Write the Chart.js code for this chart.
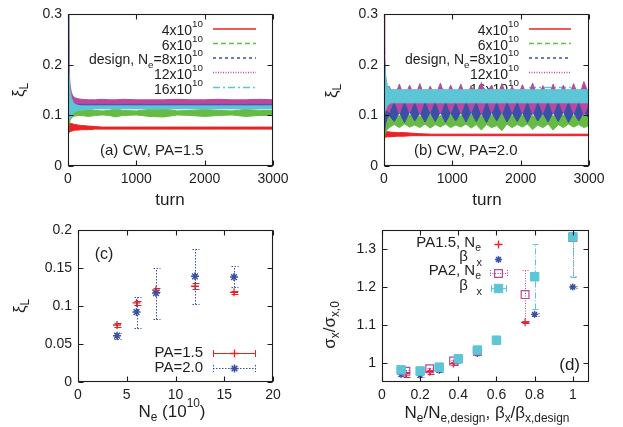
<!doctype html>
<html lang="en">
<head>
<meta charset="utf-8">
<script src="https://cdn.jsdelivr.net/npm/chart.js"></script>
<style>
  body { margin: 0; background: #fff; }
  canvas { position: absolute; }
</style>
</head>
<body>
<canvas id="chartA" width="311" height="213" style="left:0;top:0;width:311px;height:213px"></canvas>
<canvas id="chartB" width="312" height="213" style="left:311px;top:0;width:312px;height:213px"></canvas>
<canvas id="chartC" width="311" height="214" style="left:0;top:213px;width:311px;height:214px"></canvas>
<canvas id="chartD" width="312" height="214" style="left:311px;top:213px;width:312px;height:214px"></canvas>
<script>
// ---- (a) CW, PA=1.5 : each trace kept as upper / lower edge of its noisy band ----
const turnA = [0, 10, 20, 30, 50, 75, 100, 150, 200, 300, 400, 500, 600, 700, 800, 1000, 1200, 1400, 1600, 1800, 2000, 2200, 2400, 2600, 2800, 3000];
const redHiA = [0.090, 0.088, 0.086, 0.085, 0.084, 0.083, 0.082, 0.081, 0.080, 0.079, 0.078, 0.077, 0.077, 0.077, 0.077, 0.077, 0.077, 0.077, 0.077, 0.077, 0.077, 0.077, 0.077, 0.077, 0.077, 0.077];
const redLoA = [0.064, 0.066, 0.067, 0.068, 0.069, 0.070, 0.071, 0.071, 0.072, 0.072, 0.073, 0.073, 0.073, 0.073, 0.073, 0.073, 0.073, 0.073, 0.073, 0.073, 0.073, 0.073, 0.073, 0.073, 0.073, 0.073];
const greenHiA = [0.085, 0.092, 0.098, 0.103, 0.108, 0.110, 0.111, 0.111, 0.110, 0.112, 0.110, 0.109, 0.110, 0.113, 0.110, 0.109, 0.112, 0.113, 0.109, 0.110, 0.112, 0.110, 0.109, 0.112, 0.110, 0.110];
const greenLoA = [0.070, 0.078, 0.085, 0.090, 0.095, 0.098, 0.099, 0.100, 0.100, 0.098, 0.100, 0.101, 0.100, 0.097, 0.100, 0.101, 0.098, 0.097, 0.101, 0.100, 0.098, 0.100, 0.101, 0.098, 0.100, 0.100];
const blueHiA = [0.300, 0.200, 0.160, 0.145, 0.135, 0.130, 0.128, 0.127, 0.126, 0.126, 0.127, 0.126, 0.126, 0.127, 0.126, 0.126, 0.126, 0.127, 0.126, 0.126, 0.126, 0.127, 0.126, 0.126, 0.126, 0.126];
const blueLoA = [0.250, 0.150, 0.125, 0.120, 0.118, 0.118, 0.118, 0.118, 0.118, 0.118, 0.118, 0.118, 0.118, 0.118, 0.118, 0.118, 0.118, 0.118, 0.118, 0.118, 0.118, 0.118, 0.118, 0.118, 0.118, 0.118];
const magHiA = [0.300, 0.220, 0.180, 0.160, 0.145, 0.138, 0.135, 0.133, 0.132, 0.131, 0.131, 0.132, 0.131, 0.131, 0.132, 0.131, 0.131, 0.131, 0.132, 0.131, 0.131, 0.132, 0.131, 0.131, 0.132, 0.131];
const magLoA = [0.250, 0.170, 0.140, 0.132, 0.126, 0.124, 0.123, 0.123, 0.123, 0.123, 0.123, 0.123, 0.123, 0.123, 0.123, 0.123, 0.123, 0.123, 0.123, 0.123, 0.123, 0.123, 0.123, 0.123, 0.123, 0.123];
const cyanHiA = [0.300, 0.200, 0.170, 0.150, 0.135, 0.126, 0.122, 0.120, 0.119, 0.119, 0.119, 0.119, 0.119, 0.119, 0.119, 0.119, 0.119, 0.119, 0.119, 0.119, 0.119, 0.119, 0.119, 0.119, 0.119, 0.119];
const cyanLoA = [0.120, 0.090, 0.090, 0.093, 0.098, 0.103, 0.107, 0.110, 0.111, 0.112, 0.113, 0.113, 0.113, 0.113, 0.113, 0.113, 0.113, 0.113, 0.113, 0.113, 0.113, 0.113, 0.113, 0.113, 0.113, 0.113];

// ---- (b) CW, PA=2.0 : oscillating traces, edges at nodes / antinodes ----
const turnB = [0, 10, 25, 50, 75, 150, 225, 300, 375, 450, 525, 600, 675, 750, 825, 900, 975, 1050, 1125, 1200, 1275, 1350, 1425, 1500, 1575, 1650, 1725, 1800, 1875, 1950, 2025, 2100, 2175, 2250, 2325, 2400, 2475, 2550, 2625, 2700, 2775, 2850, 2925, 3000];
const greenHiB = [0.060, 0.075, 0.085, 0.092, 0.098, 0.094, 0.100, 0.095, 0.101, 0.094, 0.099, 0.096, 0.102, 0.094, 0.100, 0.095, 0.101, 0.093, 0.100, 0.096, 0.103, 0.094, 0.100, 0.095, 0.101, 0.092, 0.104, 0.095, 0.100, 0.094, 0.101, 0.095, 0.100, 0.093, 0.102, 0.095, 0.100, 0.094, 0.101, 0.096, 0.100, 0.094, 0.101, 0.097];
const greenLoB = [0.050, 0.060, 0.068, 0.072, 0.076, 0.082, 0.076, 0.083, 0.077, 0.081, 0.076, 0.083, 0.075, 0.082, 0.077, 0.083, 0.076, 0.081, 0.077, 0.083, 0.075, 0.082, 0.071, 0.082, 0.076, 0.080, 0.070, 0.083, 0.076, 0.082, 0.077, 0.083, 0.072, 0.081, 0.076, 0.083, 0.071, 0.082, 0.076, 0.083, 0.077, 0.082, 0.076, 0.080];
const blueHiB = [0.080, 0.100, 0.110, 0.118, 0.115, 0.130, 0.114, 0.131, 0.113, 0.129, 0.115, 0.131, 0.114, 0.130, 0.113, 0.131, 0.115, 0.129, 0.114, 0.131, 0.113, 0.130, 0.115, 0.131, 0.114, 0.129, 0.113, 0.131, 0.115, 0.130, 0.114, 0.131, 0.113, 0.129, 0.115, 0.131, 0.114, 0.130, 0.113, 0.131, 0.115, 0.130, 0.114, 0.128];
const blueLoB = [0.060, 0.070, 0.085, 0.095, 0.100, 0.088, 0.106, 0.086, 0.107, 0.089, 0.105, 0.087, 0.106, 0.088, 0.107, 0.086, 0.105, 0.089, 0.106, 0.087, 0.107, 0.088, 0.105, 0.086, 0.106, 0.089, 0.107, 0.087, 0.105, 0.088, 0.106, 0.086, 0.107, 0.089, 0.105, 0.087, 0.106, 0.088, 0.107, 0.086, 0.105, 0.089, 0.106, 0.095];
const magHiB = [0.300, 0.220, 0.175, 0.155, 0.158, 0.136, 0.162, 0.135, 0.160, 0.136, 0.163, 0.134, 0.158, 0.136, 0.164, 0.135, 0.160, 0.137, 0.162, 0.134, 0.159, 0.136, 0.165, 0.135, 0.160, 0.134, 0.163, 0.136, 0.158, 0.135, 0.161, 0.136, 0.164, 0.134, 0.159, 0.136, 0.162, 0.135, 0.160, 0.136, 0.163, 0.135, 0.167, 0.140];
const magLoB = [0.200, 0.120, 0.110, 0.110, 0.106, 0.130, 0.103, 0.131, 0.105, 0.130, 0.102, 0.131, 0.106, 0.130, 0.103, 0.131, 0.105, 0.129, 0.103, 0.131, 0.106, 0.130, 0.102, 0.131, 0.105, 0.130, 0.103, 0.131, 0.106, 0.130, 0.104, 0.131, 0.102, 0.130, 0.105, 0.131, 0.103, 0.130, 0.105, 0.131, 0.103, 0.130, 0.101, 0.125];
const redTurnB = [0, 20, 50, 100, 200, 300, 400, 500, 700, 3000];
const redHiB = [0.068, 0.067, 0.068, 0.067, 0.066, 0.066, 0.065, 0.064, 0.063, 0.063];
const redLoB = [0.056, 0.057, 0.058, 0.058, 0.059, 0.059, 0.060, 0.060, 0.060, 0.060];
const cyanTurnB = [0, 5, 10, 25, 50, 100, 3000];
const cyanHiB = [0.300, 0.260, 0.210, 0.175, 0.158, 0.151, 0.151];
const cyanLoB = [0.220, 0.100, 0.105, 0.112, 0.120, 0.125, 0.125];

// ---- (c) xi_L vs N_e ----
const neC = [4, 6, 8, 12, 16];
const pa15C = [0.075, 0.104, 0.121, 0.126, 0.118];
const pa15LoC = [0.073, 0.101, 0.118, 0.122, 0.116];
const pa15HiC = [0.077, 0.107, 0.124, 0.130, 0.120];
const pa2C = [0.061, 0.092, 0.117, 0.139, 0.138];
const pa2LoC = [0.057, 0.071, 0.083, 0.103, 0.125];
const pa2HiC = [0.065, 0.112, 0.150, 0.175, 0.153];

// ---- (d) sigma_x / sigma_x,0 ----
const neRatio15 = [0.125, 0.25, 0.375, 0.5, 0.75];
const pa15Ne = [0.972, 0.977, 0.999, 1.027, 1.107];
const pa15NeLo = [0.964, 0.972, 0.994, 1.024, 1.104];
const pa15NeHi = [0.976, 0.981, 1.003, 1.030, 1.110];
const bxRatio = [0.1, 0.2, 0.3, 0.4, 0.5, 0.6, 0.8, 1.0];
const pa15Bx = [0.970, 0.968, 0.981, 1.005, 1.025, 1.057, 1.128, 1.200];
const pa15BxLo = [0.966, 0.963, 0.977, 1.002, 1.022, 1.055, 1.124, 1.197];
const pa15BxHi = [0.974, 0.972, 0.985, 1.008, 1.028, 1.059, 1.132, 1.203];
const neRatio2 = [0.125, 0.25, 0.375, 0.5, 0.75, 1.0];
const pa2Ne = [0.978, 0.985, 1.005, 1.031, 1.180, 1.330];
const pa2NeLo = [0.975, 0.982, 1.002, 1.028, 1.110, 1.230];
const pa2NeHi = [0.981, 0.988, 1.008, 1.034, 1.245, 1.420];
const pa2Bx = [0.982, 0.979, 0.989, 1.011, 1.034, 1.060, 1.227, 1.332];
const pa2BxLo = [0.980, 0.977, 0.987, 1.009, 1.032, 1.058, 1.142, 1.225];
const pa2BxHi = [0.984, 0.981, 0.991, 1.013, 1.036, 1.062, 1.312, 1.440];

// tick values
const tickTurn = [0, 1000, 2000, 3000];
const tickXiAB = [0, 0.1, 0.2, 0.3];
const tickNe = [0, 5, 10, 15, 20];
const tickXiC = [0, 0.05, 0.1, 0.15, 0.2];
const tickRatio = [0, 0.2, 0.4, 0.6, 0.8, 1];
const tickSigma = [1, 1.1, 1.2, 1.3];

// key labels
const traceLabels = [
  [['4x10', ''], ['10', 'sup']],
  [['6x10', ''], ['10', 'sup']],
  [['design, N', ''], ['e', 'sub'], ['=8x10', ''], ['10', 'sup']],
  [['12x10', ''], ['10', 'sup']],
  [['16x10', ''], ['10', 'sup']]
];
const paLabelsC = ['PA=1.5', 'PA=2.0'];

const FONT = '"Liberation Sans", Arial, sans-serif';
const INK = '#1e1e1e';
const RED = '#ec2222', GREEN = '#66bb44', BLUE = '#3a4fa6', MAG = '#b9499f', CYAN = '#5cc6d6';
const traceStyles = [
  { c: RED, d: [] }, { c: GREEN, d: [5, 3] }, { c: BLUE, d: [3, 3] }, { c: MAG, d: [1, 1.5] }, { c: CYAN, d: [7, 3, 2, 3] }
];

function rich(ctx, parts, x, y, align, size) {
  const sm = size * 0.7;
  const ws = parts.map(p => { ctx.font = (p[1] ? sm : size) + 'px ' + FONT; return ctx.measureText(p[0]).width; });
  const total = ws.reduce((a, b) => a + b, 0);
  let cx = align === 'right' ? x - total : align === 'center' ? x - total / 2 : x;
  ctx.textAlign = 'left';
  ctx.textBaseline = 'middle';
  ctx.fillStyle = INK;
  parts.forEach((p, i) => {
    ctx.font = (p[1] ? sm : size) + 'px ' + FONT;
    const dy = p[1] === 'sub' ? size * 0.32 : p[1] === 'sup' ? -size * 0.5 : 0;
    ctx.fillText(p[0], cx, y + dy);
    cx += ws[i];
  });
}

function drawTexts(ctx, texts) {
  texts.forEach(t => {
    ctx.save();
    if (t.rot) {
      ctx.translate(t.x, t.y);
      ctx.rotate(-Math.PI / 2);
      rich(ctx, t.p, 0, 0, 'center', t.s);
    } else {
      rich(ctx, t.p, t.x, t.y, t.a || 'left', t.s);
    }
    ctx.restore();
  });
}

function marker(ctx, style, r, x, y, color, lw, filled) {
  ctx.save();
  ctx.setLineDash([]);
  ctx.strokeStyle = color;
  ctx.fillStyle = color;
  ctx.lineWidth = lw;
  ctx.beginPath();
  if (style === 'rect') {
    const s = r * Math.SQRT1_2;
    ctx.rect(x - s, y - s, 2 * s, 2 * s);
    if (filled) ctx.fill();
  } else {
    ctx.moveTo(x - r, y); ctx.lineTo(x + r, y);
    ctx.moveTo(x, y - r); ctx.lineTo(x, y + r);
    if (style === 'star') {
      const d = r * Math.SQRT1_2;
      ctx.moveTo(x - d, y - d); ctx.lineTo(x + d, y + d);
      ctx.moveTo(x - d, y + d); ctx.lineTo(x + d, y - d);
    }
  }
  ctx.stroke();
  ctx.restore();
}

function hbar(ctx, x0, x1, y, color, dash) {
  ctx.save();
  ctx.strokeStyle = color; ctx.lineWidth = 1; ctx.setLineDash(dash);
  ctx.beginPath();
  ctx.moveTo(x0, y + 0.5); ctx.lineTo(x1, y + 0.5);
  ctx.moveTo(x0 + 0.5, y - 3); ctx.lineTo(x0 + 0.5, y + 4);
  ctx.moveTo(x1 - 0.5, y - 3); ctx.lineTo(x1 - 0.5, y + 4);
  ctx.stroke();
  ctx.restore();
}

function traceKey(ctx, xr, x0, x1, rows) {
  traceLabels.forEach((lab, i) => {
    rich(ctx, lab, xr, rows[i] + 2.5, 'right', 14);
    ctx.save();
    ctx.beginPath();
    ctx.strokeStyle = traceStyles[i].c;
    ctx.lineWidth = 1.5;
    ctx.setLineDash(traceStyles[i].d);
    ctx.moveTo(x0, rows[i]); ctx.lineTo(x1, rows[i]);
    ctx.stroke();
    ctx.restore();
  });
}

function frame(chart) {
  const { ctx, chartArea: a, scales } = chart;
  const l = Math.round(a.left) + 0.5, r = Math.round(a.right) - 0.5;
  const t = Math.round(a.top) + 0.5, b = Math.round(a.bottom) - 0.5;
  ctx.save();
  ctx.strokeStyle = INK; ctx.lineWidth = 1.1; ctx.setLineDash([]);
  ctx.strokeRect(l, t, r - l, b - t);
  ctx.beginPath();
  scales.x.ticks.forEach(k => {
    const x = Math.round(scales.x.getPixelForValue(k.value)) + 0.5;
    ctx.moveTo(x, b); ctx.lineTo(x, b - 5);
    ctx.moveTo(x, t); ctx.lineTo(x, t + 5);
  });
  scales.y.ticks.forEach(k => {
    const y = Math.round(scales.y.getPixelForValue(k.value)) + 0.5;
    ctx.moveTo(l, y); ctx.lineTo(l + 5, y);
    ctx.moveTo(r, y); ctx.lineTo(r - 5, y);
  });
  ctx.stroke();
  ctx.restore();
}

function errorBars(chart, i) {
  const ds = chart.data.datasets[i];
  if (!ds.err) return;
  const meta = chart.getDatasetMeta(i), ys = chart.scales.y, a = chart.chartArea, ctx = chart.ctx;
  ctx.save();
  ctx.beginPath();
  ctx.rect(a.left, a.top, a.right - a.left, a.bottom - a.top);
  ctx.clip();
  ctx.strokeStyle = ds.borderColor; ctx.lineWidth = 1; ctx.setLineDash(ds.err.dash);
  ctx.beginPath();
  meta.data.forEach((p, j) => {
    const y0 = Math.round(ys.getPixelForValue(ds.err.lo[j])) + 0.5;
    const y1 = Math.round(ys.getPixelForValue(ds.err.hi[j])) + 0.5;
    const x = Math.round(p.x) + 0.5;
    ctx.moveTo(x, y0); ctx.lineTo(x, y1);
    ctx.moveTo(x - 3, y0); ctx.lineTo(x + 4, y0);
    ctx.moveTo(x - 3, y1); ctx.lineTo(x + 4, y1);
  });
  ctx.stroke();
  ctx.restore();
}

function axis(min, max, ticks, isY, fit) {
  return {
    type: 'linear', min: min, max: max,
    grid: { display: false, drawTicks: false }, border: { display: false },
    afterBuildTicks: s => { s.ticks = ticks.map(v => ({ value: v })); },
    afterFit: s => { if (isY) s.width = fit; else s.height = fit; },
    ticks: { color: INK, padding: isY ? 6 : 5, autoSkip: false, maxRotation: 0,
             font: { family: FONT, size: 14 }, callback: v => String(v) }
  };
}

function band(xs, hi, lo, color, ord) {
  const pts = ys => xs.map((x, i) => ({ x: x, y: ys[i] }));
  return [
    { data: pts(hi), borderColor: color, backgroundColor: color, borderWidth: 1, pointRadius: 0, fill: '+1', order: ord },
    { data: pts(lo), borderColor: color, backgroundColor: color, borderWidth: 1, pointRadius: 0, fill: false, order: ord }
  ];
}

function marks(xs, ys, lo, hi, color, style, r, lw, bg, dash, ord) {
  return {
    data: xs.map((x, i) => ({ x: x, y: ys[i] })),
    showLine: false, pointStyle: style, pointRadius: r, pointBorderWidth: lw,
    borderColor: color, backgroundColor: bg, order: ord,
    err: { lo: lo, hi: hi, dash: dash }
  };
}

function panel(id, box, xs, ys, datasets, deco) {
  const [W, H, L, R, T, B] = box;
  return new Chart(document.getElementById(id), {
    type: 'line',
    data: { datasets: datasets },
    options: {
      responsive: false, animation: false, events: [],
      layout: { autoPadding: false, padding: { left: 0, top: T, right: W - R, bottom: 0 } },
      plugins: { legend: { display: false }, tooltip: { enabled: false } },
      elements: { line: { tension: 0 } },
      scales: {
        x: axis(xs[0], xs[1], xs[2], false, H - B),
        y: axis(ys[0], ys[1], ys[2], true, L)
      }
    },
    plugins: [{
      id: 'deco',
      beforeDatasetsDraw(chart) { if (deco.key) deco.key(chart.ctx); },
      afterDatasetDraw(chart, args) { errorBars(chart, args.index); },
      afterDatasetsDraw(chart) { frame(chart); },
      afterDraw(chart) { drawTexts(chart.ctx, deco.texts); }
    }]
  });
}

const keyRows = [29, 43.5, 58, 72.5, 87.5];

// (a)
panel('chartA', [311, 213, 68, 273, 14, 166], [0, 3000, tickTurn], [0, 0.3, tickXiAB], [].concat(
  band(turnA, redHiA, redLoA, RED, 5),
  band(turnA, greenHiA, greenLoA, GREEN, 4),
  band(turnA, blueHiA, blueLoA, BLUE, 3),
  band(turnA, magHiA, magLoA, MAG, 2),
  band(turnA, cyanHiA, cyanLoA, CYAN, 1)
), {
  key: ctx => traceKey(ctx, 203, 213, 256, keyRows),
  texts: [
    { p: [['ξ', ''], ['L', 'sub']], x: 19, y: 90, s: 17, rot: true },
    { p: [['turn', '']], x: 170, y: 200, s: 17, a: 'center' },
    { p: [['(a) CW, PA=1.5', '']], x: 100, y: 151, s: 15 }
  ]
});

// (b)
panel('chartB', [312, 213, 73, 278, 14, 166], [0, 3000, tickTurn], [0, 0.3, tickXiAB], [].concat(
  band(redTurnB, redHiB, redLoB, RED, 5),
  band(turnB, greenHiB, greenLoB, GREEN, 4),
  band(turnB, blueHiB, blueLoB, BLUE, 3),
  band(turnB, magHiB, magLoB, MAG, 2),
  band(cyanTurnB, cyanHiB, cyanLoB, CYAN, 1)
), {
  key: ctx => traceKey(ctx, 208, 218, 260, keyRows),
  texts: [
    { p: [['ξ', ''], ['L', 'sub']], x: 21, y: 91, s: 17, rot: true },
    { p: [['turn', '']], x: 176, y: 200, s: 17, a: 'center' },
    { p: [['(b) CW, PA=2.0', '']], x: 103, y: 151, s: 15 }
  ]
});

// (c)
panel('chartC', [311, 214, 78, 273, 17, 169], [0, 20, tickNe], [0, 0.2, tickXiC], [
  marks(neC, pa15C, pa15LoC, pa15HiC, RED, 'cross', 4, 1.3, RED, [], 2),
  marks(neC, pa2C, pa2LoC, pa2HiC, BLUE, 'star', 4, 1.5, BLUE, [1.5, 1.5], 1)
], {
  key: ctx => {
    rich(ctx, [[paLabelsC[0], '']], 203, 140, 'right', 15);
    hbar(ctx, 213, 256, 140, RED, []);
    marker(ctx, 'cross', 4, 234.5, 140.5, RED, 1.3, false);
    rich(ctx, [[paLabelsC[1], '']], 203, 155, 'right', 15);
    hbar(ctx, 213, 256, 155, BLUE, [1.5, 1.5]);
    marker(ctx, 'star', 4, 234.5, 155.5, BLUE, 1.5, false);
  },
  texts: [
    { p: [['ξ', ''], ['L', 'sub']], x: 20, y: 93, s: 17, rot: true },
    { p: [['N', ''], ['e', 'sub'], [' (10', ''], ['10', 'sup'], [')', '']], x: 172, y: 199, s: 17, a: 'center' },
    { p: [['(c)', '']], x: 104, y: 42, s: 16, a: 'center' }
  ]
});

// (d)
panel('chartD', [312, 214, 71, 278, 17, 169], [0, 1.085, tickRatio], [0.95, 1.35, tickSigma], [
  marks(neRatio15, pa15Ne, pa15NeLo, pa15NeHi, RED, 'cross', 4, 1.3, RED, [], 4),
  marks(bxRatio, pa15Bx, pa15BxLo, pa15BxHi, BLUE, 'star', 3.5, 1.4, BLUE, [1.5, 1.5], 3),
  marks(neRatio2, pa2Ne, pa2NeLo, pa2NeHi, MAG, 'rect', 5.5, 1.2, 'rgba(0,0,0,0)', [1, 1.5], 2),
  marks(bxRatio, pa2Bx, pa2BxLo, pa2BxHi, CYAN, 'rect', 6, 1, CYAN, [6, 2, 1, 2], 1)
], {
  key: ctx => {
    rich(ctx, [['PA1.5, N', ''], ['e', 'sub']], 170, 30, 'right', 15);
    marker(ctx, 'cross', 4, 187.5, 31.5, RED, 1.3, false);
    rich(ctx, [['β', '']], 157, 44, 'right', 15);
    rich(ctx, [['x', '']], 171, 50, 'right', 11);
    marker(ctx, 'star', 3.5, 187.5, 46.5, BLUE, 1.4, false);
    rich(ctx, [['PA2, N', ''], ['e', 'sub']], 170, 58, 'right', 15);
    hbar(ctx, 179, 197, 60, MAG, [1, 1.5]);
    marker(ctx, 'rect', 5.5, 187.5, 60.5, MAG, 1.2, false);
    rich(ctx, [['β', '']], 157, 73, 'right', 15);
    rich(ctx, [['x', '']], 171, 79, 'right', 11);
    hbar(ctx, 180, 196, 75, CYAN, []);
    marker(ctx, 'rect', 6, 187.5, 75.5, CYAN, 1, true);
  },
  texts: [
    { p: [['σ', ''], ['x', 'sub'], ['/σ', ''], ['x,0', 'sub']], x: 19, y: 112, s: 17, rot: true },
    { p: [['N', ''], ['e', 'sub'], ['/N', ''], ['e,design', 'sub'], [', β', ''], ['x', 'sub'], ['/β', ''], ['x,design', 'sub']], x: 176, y: 200, s: 17, a: 'center' },
    { p: [['(d)', '']], x: 269, y: 152, s: 17, a: 'right' }
  ]
});
</script>
</body>
</html>
